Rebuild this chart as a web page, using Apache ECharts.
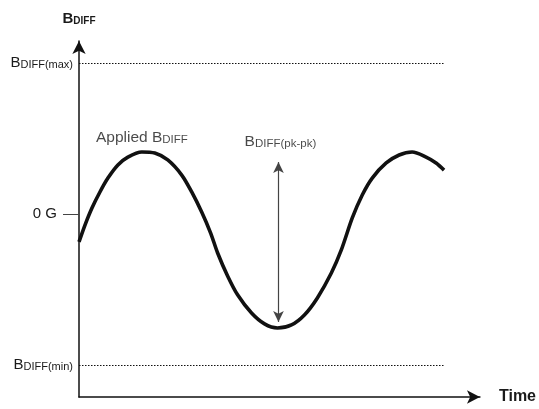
<!DOCTYPE html>
<html>
<head>
<meta charset="utf-8">
<script src="https://cdn.jsdelivr.net/npm/echarts@6/dist/echarts.min.js"></script>
<style>html,body{margin:0;padding:0;background:#fff}#c{width:539px;height:409px}</style>
</head>
<body>
<div id="c"></div>
<script>
// Time (arbitrary units) and applied B_DIFF (normalised so that B_DIFF(max)=1, B_DIFF(min)=-1)
var timeValues = [0,6,13,21,29,39,49,63,76,89,103,113,123,132,139,149,159,173,186,199,213,226,239,253,263,274,284,294,308,321,334,348,358,366];
var bValues = [-0.185,-0.073,0.040,0.146,0.238,0.325,0.377,0.411,0.404,0.358,0.258,0.146,0.013,-0.126,-0.258,-0.410,-0.535,-0.656,-0.728,-0.755,-0.735,-0.669,-0.556,-0.391,-0.238,-0.026,0.126,0.238,0.338,0.391,0.411,0.377,0.338,0.291];
var yTickLabels = { '1': 'max', '0': '0 G', '-1': 'min' };
var limitLevels = [1, -1];
var limitEnd = 366;
var pkpkTime = 200;
var pkpkRange = [0.344, -0.715];
var annotations = [
  { t: 17, y: 0.503, text: '{m|Applied B}{s|DIFF}' },
  { t: 166, y: 0.477, text: '{m|B}{s|DIFF(pk-pk)}' }
];

var curve = timeValues.map(function (t, i) { return [t, bValues[i]]; });
var font = '"Liberation Sans", Arial, sans-serif';
var ink = '#1a1a1a';

var chart = echarts.init(document.getElementById('c'), null, { renderer: 'canvas' });
chart.setOption({
  animation: false,
  backgroundColor: '#fff',
  grid: { left: 79, right: 58, top: 41, bottom: 12 },
  xAxis: {
    type: 'value', min: 0, max: 402,
    name: 'Time', nameLocation: 'end', nameGap: 19,
    nameTextStyle: { fontFamily: font, fontSize: 16, fontWeight: 'bold', color: ink, align: 'left', verticalAlign: 'middle' },
    axisLine: { show: true, onZero: false, lineStyle: { color: '#111', width: 1.5 }, symbol: ['none', 'arrow'], symbolSize: [10, 13] },
    axisTick: { show: false }, axisLabel: { show: false }, splitLine: { show: false }
  },
  yAxis: {
    type: 'value', min: -1.212, max: 1.146,
    name: '{b|B}{s|DIFF}', nameLocation: 'end', nameGap: 15,
    nameTextStyle: {
      align: 'center', color: ink,
      rich: {
        b: { fontFamily: font, fontSize: 15, fontWeight: 'bold', color: ink },
        s: { fontFamily: font, fontSize: 10, fontWeight: 'bold', color: ink, verticalAlign: 'bottom', padding: [4, 0, 0, 0] }
      }
    },
    axisLine: { show: true, onZero: false, lineStyle: { color: '#111', width: 1.5 }, symbol: ['none', 'arrow'], symbolSize: [10, 13] },
    axisTick: { show: true, customValues: [0], length: 16, lineStyle: { color: '#444', width: 1 } },
    axisLabel: {
      show: true, customValues: [-1, 0, 1], margin: 6,
      formatter: function (v) {
        var k = String(Math.round(v));
        if (k === '0') return '{n|0 G}';
        return '{b|B}{s|DIFF(' + yTickLabels[k] + ')}';
      },
      rich: {
        n: { fontFamily: font, fontSize: 15, color: ink, padding: [0, 16, 0, 0] },
        b: { fontFamily: font, fontSize: 15, color: ink },
        s: { fontFamily: font, fontSize: 11, color: ink, verticalAlign: 'bottom', padding: [4, 0, 0, 0] }
      }
    },
    splitLine: { show: false }
  },
  series: [
    {
      type: 'line', data: curve, smooth: 0.3, showSymbol: false,
      lineStyle: { color: '#111', width: 3.6 },
      markLine: {
        silent: true, symbol: 'none', animation: false,
        label: { show: false },
        lineStyle: { color: '#111', type: [1.5, 1.5], width: 1 },
        data: limitLevels.map(function (lv) { return [{ coord: [0, lv] }, { coord: [limitEnd, lv] }]; })
          .concat([[
            { coord: [pkpkTime, pkpkRange[0]], symbol: 'arrow', symbolSize: [8, 11], lineStyle: { color: '#444', type: 'solid', width: 1.2 } },
            { coord: [pkpkTime, pkpkRange[1]], symbol: 'arrow', symbolSize: [8, 11] }
          ]])
      }
    },
    {
      type: 'scatter', symbolSize: 0, silent: true,
      data: annotations.map(function (a) { return { value: [a.t, a.y], label: { formatter: a.text } }; }),
      label: {
        show: true, position: [0, 0], align: 'left', verticalAlign: 'middle',
        rich: {
          m: { fontFamily: font, fontSize: 15.5, color: ink },
          s: { fontFamily: font, fontSize: 11.5, color: ink, verticalAlign: 'bottom', padding: [4, 0, 0, 0] }
        }
      }
    }
  ]
});
</script>
</body>
</html>
